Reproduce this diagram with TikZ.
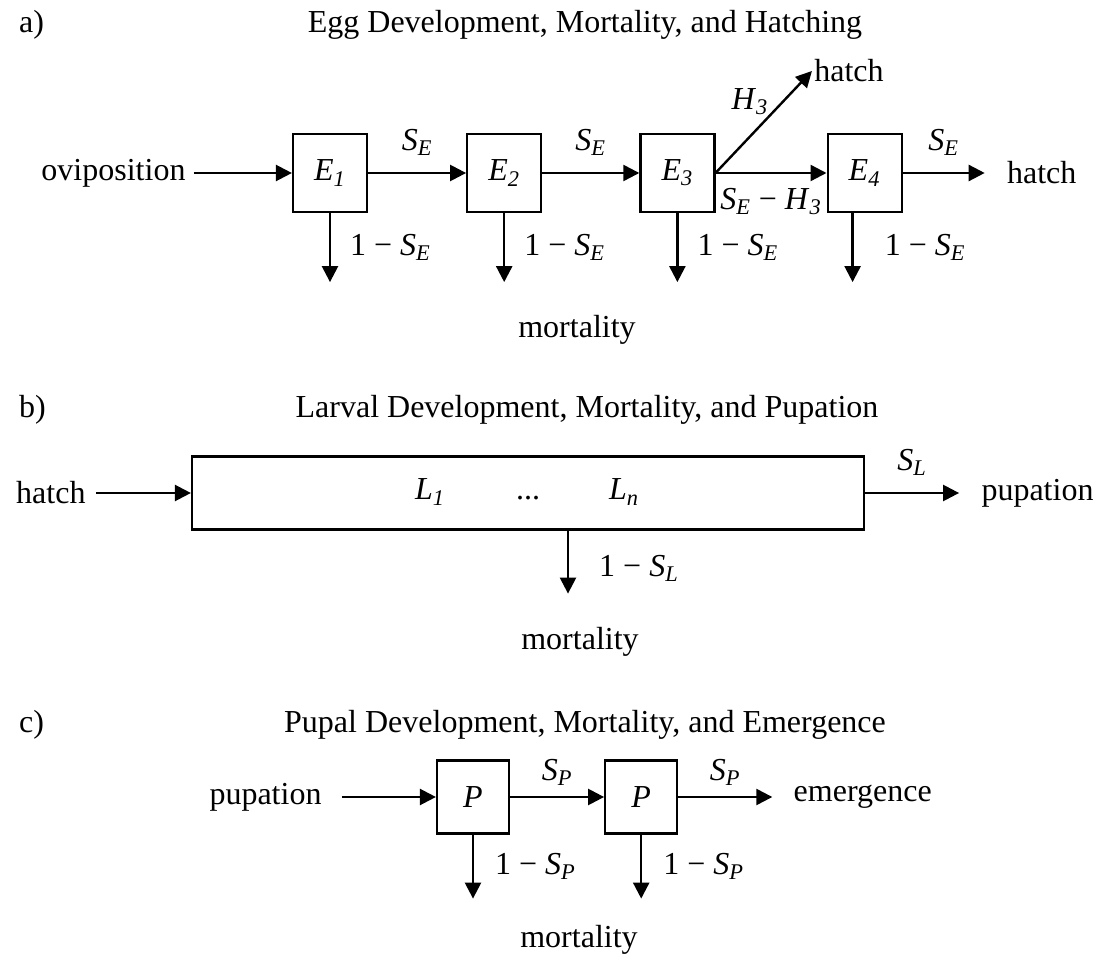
\documentclass[tikz,border=0pt]{standalone}
\usepackage{fontspec}
\setmainfont{Liberation Serif}
\usetikzlibrary{arrows.meta, positioning}

\newcommand{\stvar}[2]{\textit{#1}\textsubscript{\textit{#2}}}

\begin{document}
\begin{tikzpicture}[
  x=0.5pt, y=-0.5pt,
  font=\fontsize{16}{19}\selectfont,
  stage/.style={rectangle, draw, line width=1.1pt, minimum width=37pt, minimum height=39pt, inner sep=0pt},
  term/.style={inner xsep=#1, inner ysep=1pt},
  term/.default=10.5pt,
  lbl/.style={inner sep=1pt},
  arrow/.style={-{Triangle[length=8pt, width=8pt]}, line width=1.2pt}
]
  \useasboundingbox (0,0) rectangle (1105,957);

  % a) eggs
  \node[anchor=base west] (capA) at (12,33) {a)};
  \node[anchor=base] (titleA) at (585,33) {Egg Development, Mortality, and Hatching};
  \node[stage] (E1) at (330,173) {\stvar{E}{1}};
  \node[stage, right=49pt of E1] (E2) {\stvar{E}{2}};
  \node[stage, right=48.5pt of E2] (E3) {\stvar{E}{3}};
  \node[stage, right=55.5pt of E3] (E4) {\stvar{E}{4}};
  \node[term=4pt, left=49pt of E1] (ovi) {oviposition};
  \node[term=11pt, right=41pt of E4] (hatchE) {hatch};
  \node[lbl] (hatchH) at (849,71) {hatch};
  \node[anchor=base] (mortA) at (577,338) {mortality};
  \draw[arrow] (ovi) -- (E1);
  \draw[arrow] (E1) -- (E2) node[midway, above=7pt, lbl] {\stvar{S}{E}};
  \draw[arrow] (E2) -- (E3) node[midway, above=7pt, lbl] {\stvar{S}{E}};
  \draw[arrow] (E3) -- (E4) node[midway, below=6pt, lbl] {\stvar{S}{E} − \stvar{H}{3}};
  \draw[arrow] (E3.east) -- (hatchH.west) node[pos=0.56, above left, inner sep=0pt] {\stvar{H}{3}};
  \draw[arrow] (E4) -- (hatchE) node[midway, above=7pt, lbl] {\stvar{S}{E}};
  \draw[arrow] (E1.south) -- ++(0,69) node[midway, right=8.5pt, lbl] {1 − \stvar{S}{E}};
  \draw[arrow] (E2.south) -- ++(0,69) node[midway, right=8.5pt, lbl] {1 − \stvar{S}{E}};
  \draw[arrow] (E3.south) -- ++(0,69) node[midway, right=8.5pt, lbl] {1 − \stvar{S}{E}};
  \draw[arrow] ([xshift=-6pt]E4.south) -- ++(0,69) node[midway, right=14.5pt, lbl] {1 − \stvar{S}{E}};

  % b) larvae
  \node[anchor=base west] (capB) at (12,418) {b)};
  \node[anchor=base] (titleB) at (587,418) {Larval Development, Mortality, and Pupation};
  \node[stage, minimum width=336pt, minimum height=36.5pt] (L) at (528,493) {};
  \node[anchor=base] (L1) at (430,500) {\stvar{L}{1}};
  \node[anchor=base] (Ldots) at (528,500) {...};
  \node[anchor=base] (Ln) at (624,500) {\stvar{L}{n}};
  \node[term=5pt, left=47.5pt of L] (hatchL) {hatch};
  \node[term=11pt, right=47pt of L] (pupL) {pupation};
  \node[anchor=base] (mortB) at (580,650) {mortality};
  \draw[arrow] (hatchL) -- (L);
  \draw[arrow] (L) -- (pupL) node[midway, above=7pt, lbl] {\stvar{S}{L}};
  \draw[arrow] ([xshift=20pt]L.south) -- ++(0,63) node[pos=0.6, right=14pt, lbl] {1 − \stvar{S}{L}};

  % c) pupae
  \node[anchor=base west] (capC) at (12,733) {c)};
  \node[anchor=base] (titleC) at (585,733) {Pupal Development, Mortality, and Emergence};
  \node[stage, minimum width=36pt, minimum height=36.5pt] (P1) at (473,797) {\textit{P}};
  \node[stage, minimum width=36pt, minimum height=36.5pt, right=47pt of P1] (P2) {\textit{P}};
  \node[term=10pt, left=47pt of P1] (pupP) {pupation};
  \node[term=10.5pt, right=47pt of P2] (emerge) {emergence};
  \node[anchor=base] (mortC) at (579,947) {mortality};
  \draw[arrow] (pupP) -- (P1);
  \draw[arrow] (P1) -- (P2) node[midway, above=4pt, lbl] {\stvar{S}{P}};
  \draw[arrow] (P2) -- (emerge) node[midway, above=4pt, lbl] {\stvar{S}{P}};
  \draw[arrow] (P1.south) -- ++(0,64) node[midway, right=9.5pt, lbl] {1 − \stvar{S}{P}};
  \draw[arrow] (P2.south) -- ++(0,64) node[midway, right=9.5pt, lbl] {1 − \stvar{S}{P}};
\end{tikzpicture}
\end{document}
